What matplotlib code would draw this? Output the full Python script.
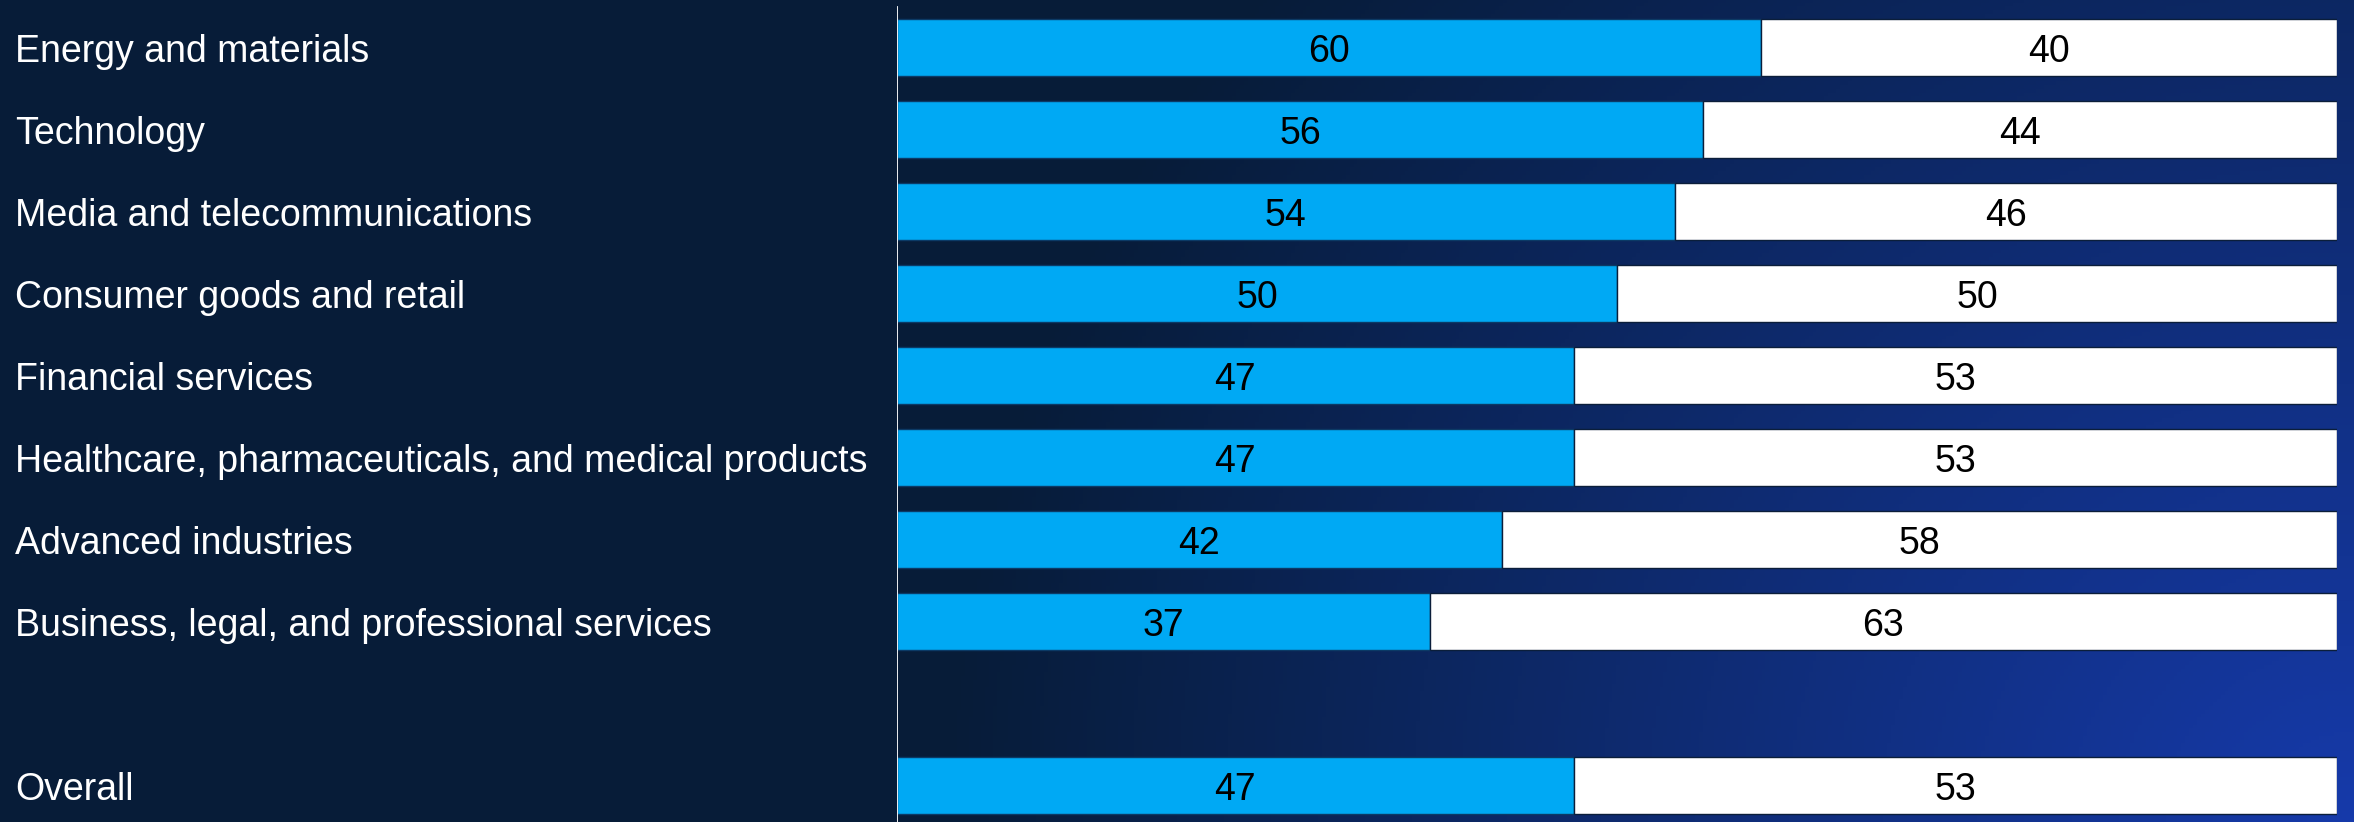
import matplotlib
matplotlib.use("Agg")
import matplotlib.pyplot as plt
import matplotlib.transforms as mtransforms
import numpy as np

plt.rcParams['font.family'] = ['Liberation Sans', 'DejaVu Sans']

# data
categories = ["Energy and materials", "Technology", "Media and telecommunications",
              "Consumer goods and retail", "Financial services",
              "Healthcare, pharmaceuticals, and medical products",
              "Advanced industries", "Business, legal, and professional services",
              "Overall"]
share_blue = [60, 56, 54, 50, 47, 47, 42, 37, 47]
share_white = [40, 44, 46, 50, 53, 53, 58, 63, 53]
positions = [0, 1, 2, 3, 4, 5, 6, 7, 9]

W, H = 2354, 822
fig = plt.figure(figsize=(W / 100, H / 100), dpi=100)

# background gradient (dark navy -> blue towards bottom right)
bg = fig.add_axes([0, 0, 1, 1], zorder=0)
xx, yy = np.meshgrid(np.linspace(0, 1, 600), np.linspace(0, 1, 220))
t = np.clip(1 - np.sqrt(((1 - xx) / 0.6) ** 2 + (yy / 1.6) ** 2), 0, 1)
dark = np.array([7, 28, 56]) / 255
bright = np.array([22, 58, 170]) / 255
img = dark[None, None, :] * (1 - t[..., None]) + bright[None, None, :] * t[..., None]
bg.imshow(img, aspect='auto', extent=[0, 1, 0, 1], origin='lower')
bg.axis('off')

left_px, right_px = 897, 2337
ax = fig.add_axes([left_px / W, 0, (right_px - left_px) / W, 1], zorder=1)
ax.patch.set_alpha(0)

ax.barh(positions, share_blue, height=0.695, color='#00A9F4',
        edgecolor='#0b3a66', linewidth=1)
ax.barh(positions, share_white, left=share_blue, height=0.695, color='white',
        edgecolor='#0b1e3a', linewidth=1)

dy = 0.05
for p, b, w in zip(positions, share_blue, share_white):
    ax.text(b / 2, p + dy, str(b), ha='center', va='center', fontsize=27, color='black')
    ax.text(b + w / 2, p + dy, str(w), ha='center', va='center', fontsize=27, color='black')

trans = mtransforms.blended_transform_factory(fig.transFigure, ax.transData)
for p, c in zip(positions, categories):
    ax.text(15 / W, p + dy, c, transform=trans, ha='left', va='center',
            fontsize=27, color='white')

ax.set_xlim(0, 100)
ax.set_ylim((H - 47.7) / 82, -47.7 / 82)
ax.axvline(0, ymin=0, ymax=1 - 7 / H, color='white', linewidth=1.3)
ax.axis('off')

fig.savefig("out.png", dpi=100)
